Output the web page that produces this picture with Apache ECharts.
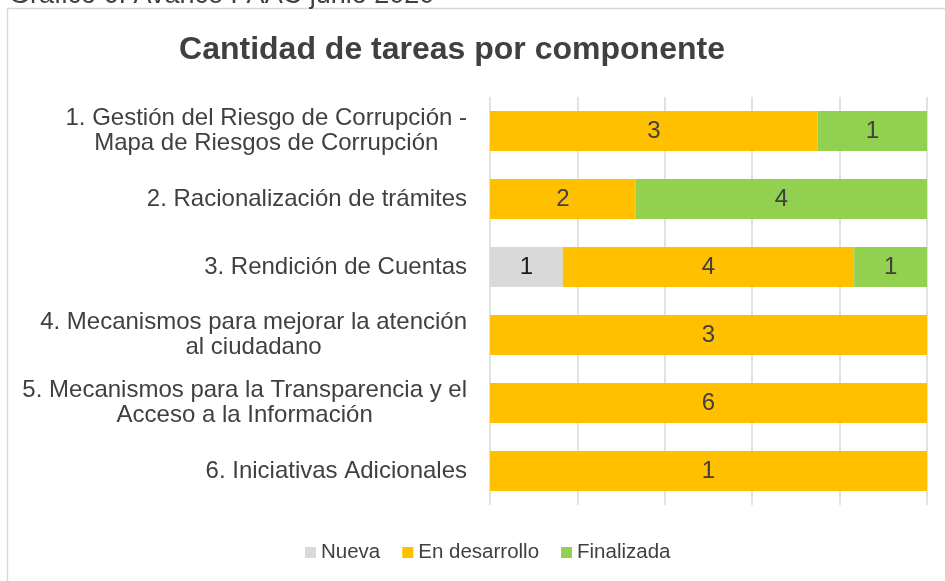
<!DOCTYPE html>
<html>
<head>
<meta charset="utf-8">
<script src="https://cdn.jsdelivr.net/npm/echarts@6/dist/echarts.min.js"></script>
<style>
  html, body { margin: 0; padding: 0; background: #fff; }
  #main { width: 945px; height: 581px; }
</style>
</head>
<body>
<div id="main"></div>
<script>
// categorias (de arriba hacia abajo)
var componentes = [
  '1. Gestión del Riesgo de Corrupción -\nMapa de Riesgos de Corrupción',
  '2. Racionalización de trámites',
  '3. Rendición de Cuentas',
  '4. Mecanismos para mejorar la atención\nal ciudadano',
  '5. Mecanismos para la Transparencia y el\nAcceso a la Información',
  '6. Iniciativas Adicionales'
];
var estados = ['Nueva', 'En desarrollo', 'Finalizada'];
var nueva = [0, 0, 1, 0, 0, 0];
var enDesarrollo = [3, 2, 4, 3, 6, 1];
var finalizada = [1, 4, 1, 0, 0, 0];
var colores = ['#d9d9d9', '#ffc000', '#92d050'];
var ticksPct = [0, 20, 40, 60, 80, 100];

var valores = [nueva, enDesarrollo, finalizada];
var totales = componentes.map(function (c, i) {
  return nueva[i] + enDesarrollo[i] + finalizada[i];
});

var chart = echarts.init(document.getElementById('main'));
var fuente = '"Liberation Sans", Arial, sans-serif';

var series = estados.map(function (nombre, k) {
  return {
    name: nombre,
    type: 'bar',
    stack: 'total',
    barWidth: 40,
    itemStyle: { color: colores[k] },
    label: {
      show: true,
      position: 'inside',
      color: k === 0 ? '#1a1a1a' : '#404040',
      fontFamily: fuente,
      fontSize: 24,
      formatter: function (p) { return p.data.raw ? String(p.data.raw) : ''; }
    },
    data: valores[k].map(function (v, i) {
      return { value: v / totales[i] * 100, raw: v };
    })
  };
});

var option = {
  animation: false,
  textStyle: { fontFamily: fuente },
  title: {
    text: 'Cantidad de tareas por componente',
    left: 447,
    textAlign: 'center',
    top: 29,
    textStyle: { fontSize: 32, fontWeight: 'bold', color: '#404040', fontFamily: fuente }
  },
  legend: {
    data: estados,
    bottom: 13,
    left: 300,
    itemWidth: 11,
    itemHeight: 11,
    itemGap: 22,
    icon: 'rect',
    textStyle: { fontSize: 20.5, color: '#404040', fontFamily: fuente, padding: [0, 0, 0, 0] }
  },
  grid: { left: 490, right: 18, top: 97, bottom: 76, containLabel: false },
  xAxis: {
    type: 'value',
    min: ticksPct[0],
    max: ticksPct[ticksPct.length - 1],
    interval: ticksPct[1] - ticksPct[0],
    axisLabel: { show: false },
    axisLine: { show: false },
    axisTick: { show: false },
    splitLine: { show: true, lineStyle: { color: '#d9d9d9', width: 1.5 } }
  },
  yAxis: {
    type: 'category',
    inverse: true,
    data: componentes,
    axisLine: { show: false },
    axisTick: { show: false },
    axisLabel: {
      margin: 23,
      fontSize: 24,
      color: '#404040',
      fontFamily: fuente,
      lineHeight: 25,
      formatter: function (v) {
        return v.split('\n').map(function (l) { return '{c|' + l + '}'; }).join('\n');
      },
      rich: {
        c: { align: 'center', fontSize: 24, color: '#404040', fontFamily: fuente, lineHeight: 25 }
      }
    }
  },
  graphic: [
    {
      type: 'rect',
      shape: { x: 7.5, y: 8.5, width: 1000, height: 1000 },
      style: { fill: 'none', stroke: '#d9d9d9', lineWidth: 1.5 },
      silent: true
    },
    {
      type: 'text',
      left: 9,
      top: -18,
      style: { text: 'Gráfico 6. Avance PAAC junio 2020', fontSize: 27, fill: '#404040', fontFamily: fuente }
    }
  ],
  series: series
};

chart.setOption(option);
</script>
</body>
</html>
